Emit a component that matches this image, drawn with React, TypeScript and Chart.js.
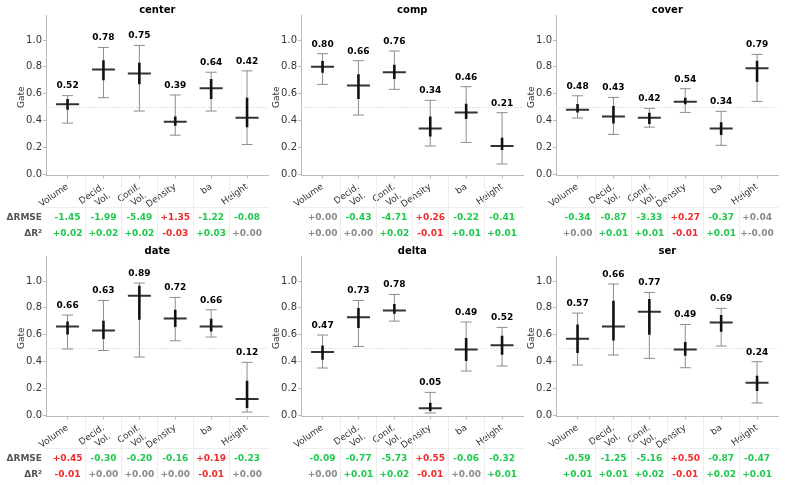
import React, { useEffect, useRef } from 'react';
import { Chart, registerables } from 'chart.js';

Chart.register(...registerables);

// ---------- DATA ----------
const categories: string[][] = [['Volume'], ['Decid.', 'Vol.'], ['Conif.', 'Vol.'], ['Density'], ['ba'], ['Height']];
const panelNames = ['center', 'comp', 'cover', 'date', 'delta', 'ser'];
const yTicks = [0, 0.2, 0.4, 0.6, 0.8, 1.0];
const rowLabels = ['ΔRMSE', 'ΔR²'];

// center
const centerMedian = [0.52, 0.78, 0.75, 0.39, 0.64, 0.42];
const centerIqrLow = [0.48, 0.70, 0.67, 0.36, 0.56, 0.35];
const centerIqrHigh = [0.56, 0.85, 0.83, 0.43, 0.71, 0.57];
const centerWhiskLow = [0.38, 0.57, 0.47, 0.29, 0.47, 0.22];
const centerWhiskHigh = [0.585, 0.945, 0.96, 0.59, 0.76, 0.77];
const centerRmse = ['-1.45', '-1.99', '-5.49', '+1.35', '-1.22', '-0.08'];
const centerRmseTone = ['g', 'g', 'g', 'r', 'g', 'g'];
const centerR2 = ['+0.02', '+0.02', '+0.02', '-0.03', '+0.03', '+0.00'];
const centerR2Tone = ['g', 'g', 'g', 'r', 'g', 'n'];

// comp
const compMedian = [0.80, 0.66, 0.76, 0.34, 0.46, 0.21];
const compIqrLow = [0.756, 0.56, 0.71, 0.28, 0.41, 0.18];
const compIqrHigh = [0.843, 0.744, 0.816, 0.43, 0.525, 0.27];
const compWhiskLow = [0.669, 0.44, 0.632, 0.209, 0.236, 0.075];
const compWhiskHigh = [0.898, 0.846, 0.918, 0.55, 0.652, 0.458];
const compRmse = ['+0.00', '-0.43', '-4.71', '+0.26', '-0.22', '-0.41'];
const compRmseTone = ['n', 'g', 'g', 'r', 'g', 'g'];
const compR2 = ['+0.00', '+0.00', '+0.02', '-0.01', '+0.01', '+0.01'];
const compR2Tone = ['n', 'n', 'g', 'r', 'g', 'g'];

// cover
const coverMedian = [0.48, 0.43, 0.42, 0.54, 0.34, 0.79];
const coverIqrLow = [0.46, 0.378, 0.373, 0.52, 0.291, 0.687];
const coverIqrHigh = [0.522, 0.507, 0.458, 0.57, 0.386, 0.846];
const coverWhiskLow = [0.418, 0.296, 0.35, 0.46, 0.214, 0.542];
const coverWhiskHigh = [0.584, 0.572, 0.49, 0.637, 0.468, 0.893];
const coverRmse = ['-0.34', '-0.87', '-3.33', '+0.27', '-0.37', '+0.04'];
const coverRmseTone = ['g', 'g', 'g', 'r', 'g', 'n'];
const coverR2 = ['+0.00', '+0.01', '+0.01', '-0.01', '+0.01', '+-0.00'];
const coverR2Tone = ['n', 'g', 'g', 'r', 'g', 'n'];

// date
const dateMedian = [0.66, 0.63, 0.89, 0.72, 0.66, 0.12];
const dateIqrLow = [0.601, 0.567, 0.711, 0.657, 0.624, 0.052];
const dateIqrHigh = [0.699, 0.704, 0.965, 0.786, 0.719, 0.256];
const dateWhiskLow = [0.493, 0.482, 0.433, 0.554, 0.582, 0.022];
const dateWhiskHigh = [0.746, 0.855, 0.985, 0.878, 0.786, 0.393];
const dateRmse = ['+0.45', '-0.30', '-0.20', '-0.16', '+0.19', '-0.23'];
const dateRmseTone = ['r', 'g', 'g', 'g', 'r', 'g'];
const dateR2 = ['-0.01', '+0.00', '+0.00', '+0.00', '-0.01', '+0.00'];
const dateR2Tone = ['r', 'n', 'n', 'n', 'r', 'n'];

// delta
const deltaMedian = [0.47, 0.73, 0.78, 0.05, 0.49, 0.52];
const deltaIqrLow = [0.413, 0.649, 0.756, 0.03, 0.403, 0.45];
const deltaIqrHigh = [0.519, 0.798, 0.828, 0.092, 0.575, 0.592];
const deltaWhiskLow = [0.351, 0.512, 0.701, 0.015, 0.328, 0.366];
const deltaWhiskHigh = [0.597, 0.855, 0.90, 0.169, 0.694, 0.654];
const deltaRmse = ['-0.09', '-0.77', '-5.73', '+0.55', '-0.06', '-0.32'];
const deltaRmseTone = ['g', 'g', 'g', 'r', 'g', 'g'];
const deltaR2 = ['+0.00', '+0.01', '+0.02', '-0.01', '+0.00', '+0.01'];
const deltaR2Tone = ['n', 'g', 'g', 'r', 'n', 'g'];

// ser
const serMedian = [0.57, 0.66, 0.77, 0.49, 0.69, 0.24];
const serIqrLow = [0.463, 0.557, 0.599, 0.443, 0.622, 0.179];
const serIqrHigh = [0.676, 0.853, 0.866, 0.545, 0.746, 0.293];
const serWhiskLow = [0.373, 0.448, 0.423, 0.353, 0.515, 0.09];
const serWhiskHigh = [0.761, 0.978, 0.915, 0.676, 0.796, 0.398];
const serRmse = ['-0.59', '-1.25', '-5.16', '+0.50', '-0.87', '-0.47'];
const serRmseTone = ['g', 'g', 'g', 'r', 'g', 'g'];
const serR2 = ['+0.01', '+0.01', '+0.02', '-0.01', '+0.02', '+0.01'];
const serR2Tone = ['g', 'g', 'g', 'r', 'g', 'g'];

// ---------- BUILD ----------
type Panel = {
  name: string; med: number[]; iqrLo: number[]; iqrHi: number[]; wLo: number[]; wHi: number[];
  rmse: string[]; rmseTone: string[]; r2: string[]; r2Tone: string[];
};

const panels: Panel[] = [
  { name: panelNames[0], med: centerMedian, iqrLo: centerIqrLow, iqrHi: centerIqrHigh, wLo: centerWhiskLow, wHi: centerWhiskHigh, rmse: centerRmse, rmseTone: centerRmseTone, r2: centerR2, r2Tone: centerR2Tone },
  { name: panelNames[1], med: compMedian, iqrLo: compIqrLow, iqrHi: compIqrHigh, wLo: compWhiskLow, wHi: compWhiskHigh, rmse: compRmse, rmseTone: compRmseTone, r2: compR2, r2Tone: compR2Tone },
  { name: panelNames[2], med: coverMedian, iqrLo: coverIqrLow, iqrHi: coverIqrHigh, wLo: coverWhiskLow, wHi: coverWhiskHigh, rmse: coverRmse, rmseTone: coverRmseTone, r2: coverR2, r2Tone: coverR2Tone },
  { name: panelNames[3], med: dateMedian, iqrLo: dateIqrLow, iqrHi: dateIqrHigh, wLo: dateWhiskLow, wHi: dateWhiskHigh, rmse: dateRmse, rmseTone: dateRmseTone, r2: dateR2, r2Tone: dateR2Tone },
  { name: panelNames[4], med: deltaMedian, iqrLo: deltaIqrLow, iqrHi: deltaIqrHigh, wLo: deltaWhiskLow, wHi: deltaWhiskHigh, rmse: deltaRmse, rmseTone: deltaRmseTone, r2: deltaR2, r2Tone: deltaR2Tone },
  { name: panelNames[5], med: serMedian, iqrLo: serIqrLow, iqrHi: serIqrHigh, wLo: serWhiskLow, wHi: serWhiskHigh, rmse: serRmse, rmseTone: serRmseTone, r2: serR2, r2Tone: serR2Tone },
];

const TONE: Record<string, string> = { g: '#1fc94c', r: '#f22a2a', n: '#8a8a8a' };
const FONT = '"DejaVu Sans", sans-serif';
const PW = 270;
const PH = 241;
const COL_X = [0, 255, 510];

function makePlugin(p: Panel, col: number) {
  return {
    id: 'deco',
    beforeDatasetsDraw(chart: any) {
      const { ctx, chartArea, scales } = chart;
      const yy = Math.round(scales.y.getPixelForValue(0.5)) + 0.5;
      ctx.save();
      ctx.strokeStyle = '#dcdcdc';
      ctx.lineWidth = 1;
      ctx.setLineDash([1.5, 1.5]);
      ctx.beginPath();
      ctx.moveTo(chartArea.left, yy);
      ctx.lineTo(chartArea.right, yy);
      ctx.stroke();
      ctx.restore();
    },
    afterDraw(chart: any) {
      const { ctx, chartArea, scales } = chart;
      const xs = scales.x;
      const ys = scales.y;
      ctx.save();
      // title
      ctx.fillStyle = '#000';
      ctx.font = `bold 10px ${FONT}`;
      ctx.textAlign = 'center';
      ctx.textBaseline = 'middle';
      ctx.fillText(p.name, (chartArea.left + chartArea.right) / 2, 10);
      // Gate label
      ctx.save();
      ctx.translate(22, (chartArea.top + chartArea.bottom) / 2 + 2);
      ctx.rotate(-Math.PI / 2);
      ctx.font = `9px ${FONT}`;
      ctx.fillStyle = '#333';
      ctx.fillText('Gate', 0, 0);
      ctx.restore();
      // value labels
      ctx.font = `bold 9px ${FONT}`;
      ctx.fillStyle = '#000';
      p.med.forEach((m, i) => {
        const px = xs.getPixelForValue(i);
        const py = ys.getPixelForValue(p.wHi[i]) - 9.5;
        ctx.fillText(m.toFixed(2), px, py);
      });
      // separators
      ctx.strokeStyle = '#ededed';
      ctx.lineWidth = 1;
      const bounds = [0.5, 1.5, 2.5, 3.5, 4.5];
      bounds.forEach((b) => {
        const bx = Math.round(xs.getPixelForValue(b)) + 0.5;
        ctx.beginPath();
        ctx.moveTo(bx, chartArea.bottom + 1);
        ctx.lineTo(bx, 243);
        ctx.stroke();
      });
      ctx.beginPath();
      ctx.moveTo(chartArea.left, 207.5);
      ctx.lineTo(chartArea.right, 207.5);
      ctx.stroke();
      // table
      const rowY = [217.5, 233.5];
      if (col === 0) {
        ctx.font = `bold 9px ${FONT}`;
        ctx.fillStyle = '#555';
        ctx.textAlign = 'right';
        rowLabels.forEach((l, r) => ctx.fillText(l, 42, rowY[r]));
      }
      ctx.textAlign = 'center';
      const rows = [
        { vals: p.rmse, tones: p.rmseTone },
        { vals: p.r2, tones: p.r2Tone },
      ];
      rows.forEach((row, r) => {
        row.vals.forEach((v, i) => {
          const t = row.tones[i];
          ctx.font = `${t === 'n' ? '600 ' : 'bold '}9px ${FONT}`;
          ctx.fillStyle = TONE[t];
          ctx.fillText(v, xs.getPixelForValue(i), rowY[r]);
        });
      });
      ctx.restore();
    },
  };
}

function PanelChart({ p, idx }: { p: Panel; idx: number }) {
  const ref = useRef<HTMLCanvasElement | null>(null);
  const col = idx % 3;
  const row = Math.floor(idx / 3);
  useEffect(() => {
    if (!ref.current) return;
    const chart = new Chart(ref.current, {
      type: 'bar',
      data: {
        datasets: [
          {
            type: 'bar',
            data: p.med.map((_, i) => ({ x: i, y: [p.iqrLo[i], p.iqrHi[i]] })) as any,
            backgroundColor: '#111',
            barThickness: 2.6,
            inflateAmount: 0,
            borderWidth: 0,
            grouped: false,
          } as any,
          {
            type: 'scatter',
            data: p.med.map((m, i) => ({ x: i, y: m })),
            pointStyle: 'line',
            pointRadius: 11.5,
            pointBorderWidth: 2,
            borderColor: '#333',
            backgroundColor: '#333',
          } as any,
          {
            type: 'scatter',
            data: [
              ...p.wLo.map((v, i) => ({ x: i, y: v })),
              ...p.wHi.map((v, i) => ({ x: i, y: v })),
            ],
            pointStyle: 'line',
            pointRadius: 5.5,
            pointBorderWidth: 1,
            borderColor: '#8c8c8c',
            backgroundColor: '#8c8c8c',
          } as any,
          {
            type: 'bar',
            data: p.med.map((_, i) => ({ x: i, y: [p.wLo[i], p.wHi[i]] })) as any,
            backgroundColor: '#8c8c8c',
            barThickness: 1,
            inflateAmount: 0,
            borderWidth: 0,
            grouped: false,
          } as any,
        ],
      },
      options: {
        responsive: false,
        animation: false,
        events: [],
        layout: { autoPadding: false, padding: { left: 0, top: 15, right: 1.4, bottom: 0 } },
        plugins: { legend: { display: false }, tooltip: { enabled: false }, title: { display: false } },
        scales: {
          x: {
            type: 'linear',
            min: -0.6,
            max: 5.6,
            offset: false,
            afterBuildTicks: (s: any) => {
              s.ticks = categories.map((_, i) => ({ value: i }));
            },
            afterFit: (s: any) => {
              s.height = PH - 175.5;
              s.paddingLeft = 0;
              s.paddingRight = 0;
            },
            ticks: {
              autoSkip: false,
              minRotation: 35,
              maxRotation: 35,
              padding: 3,
              color: '#333',
              font: { family: FONT, size: 9 },
              callback: (v: any) => categories[Math.round(Number(v))] ?? '',
            },
            grid: { drawOnChartArea: false, drawTicks: true, tickLength: 3, color: '#bbb', offset: false },
            border: { color: '#bbb', width: 1 },
          },
          y: {
            type: 'linear',
            min: -0.011,
            max: 1.187,
            beginAtZero: false,
            afterBuildTicks: (s: any) => {
              s.ticks = yTicks.map((v) => ({ value: v }));
            },
            afterFit: (s: any) => {
              s.width = 46;
              s.paddingTop = 0;
              s.paddingBottom = 0;
            },
            ticks: {
              padding: 1,
              color: '#333',
              font: { family: FONT, size: 10 },
              callback: (v: any) => Number(v).toFixed(1),
            },
            grid: { drawOnChartArea: false, drawTicks: true, tickLength: 3, color: '#bbb' },
            border: { color: '#bbb', width: 1 },
          },
        },
      } as any,
      plugins: [makePlugin(p, col)],
    });
    return () => chart.destroy();
  }, [p, col]);
  return (
    <div style={{ position: 'absolute', left: COL_X[col], top: row * PH, width: PW, height: PH }}>
      <canvas ref={ref} width={PW} height={PH} style={{ display: 'block', width: PW, height: PH }} />
    </div>
  );
}

export default function App() {
  return (
    <div style={{ position: 'absolute', left: 0, top: 0, width: 785, height: 485, background: '#fff', overflow: 'hidden' }}>
      {panels.map((p, i) => (
        <PanelChart key={p.name} p={p} idx={i} />
      ))}
    </div>
  );
}
